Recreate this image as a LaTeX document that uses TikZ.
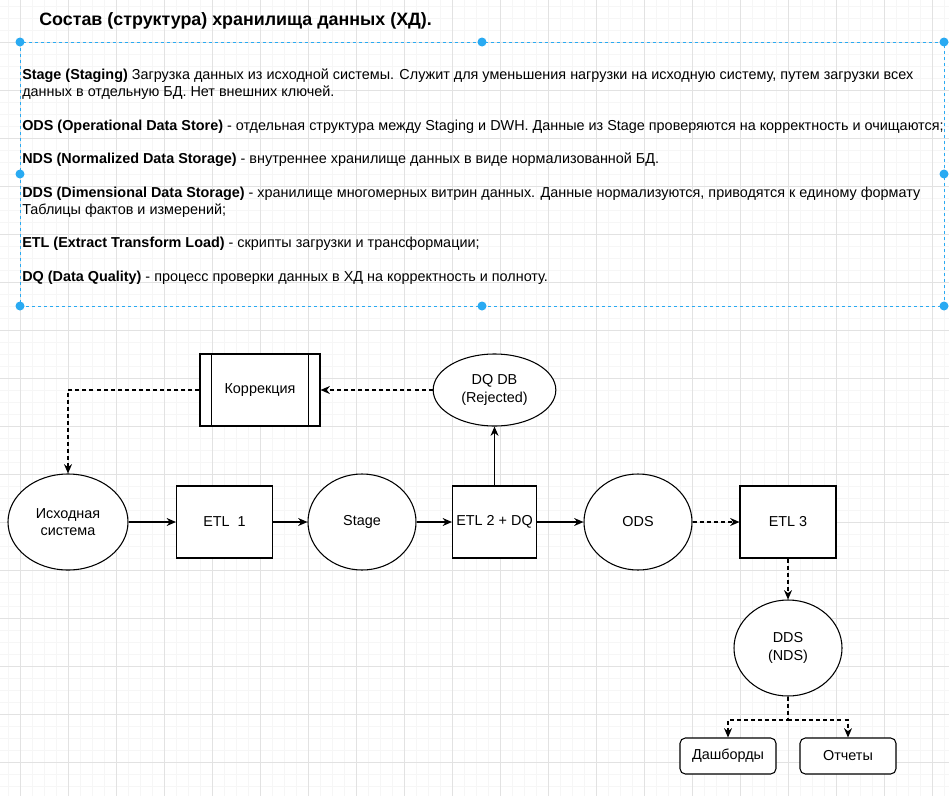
\documentclass[tikz,border=0pt]{standalone}
\usepackage{fontspec}
\setmainfont{Liberation Sans}
\usetikzlibrary{shapes.geometric,arrows.meta}
\definecolor{selblue}{RGB}{41,170,242}
\definecolor{gridmajor}{RGB}{226,226,226}
\definecolor{gridminor}{RGB}{246,246,246}
\newcommand{\bodyfont}{\fontsize{10.8}{13}\selectfont}
\begin{document}
\begin{tikzpicture}[x=0.75pt,y=-0.75pt,
	shape base/.style={draw,line width=0.8pt,fill=white,inner sep=0pt,align=center,
		font=\fontsize{10.8}{13}\selectfont},
	etlbox/.style={shape base,rectangle,minimum width=72pt,minimum height=54pt},
	store/.style={shape base,ellipse,minimum width=81pt,minimum height=72pt},
	outbox/.style={shape base,rectangle,rounded corners=4pt,minimum width=72pt,minimum height=27pt},
	flow/.style={line width=0.8pt,-{Stealth[length=7pt,width=6pt]}},
	dflow/.style={flow,dash pattern=on 3pt off 2.3pt},
	defline/.style={anchor=base west,inner sep=0pt,font=\bodyfont},
	handle/.style={fill=selblue,draw=none}]
	\useasboundingbox (0,0) rectangle (949,796);
	\fill[white] (0,0) rectangle (949,796);

	% siatka
	\foreach \x in {8,20,...,944} {
	    \draw[gridminor,line width=0.75pt] (\x,0) -- (\x,796);
	}
	\foreach \y in {6,18,...,794} {
	    \draw[gridminor,line width=0.75pt] (0,\y) -- (949,\y);
	}
	\foreach \x in {20,68,...,944} {
	    \draw[gridmajor,line width=0.75pt] (\x,0) -- (\x,796);
	}
	\foreach \y in {42,90,...,794} {
	    \draw[gridmajor,line width=0.75pt] (0,\y) -- (949,\y);
	}

	\node[anchor=base west,inner sep=0pt,font=\fontsize{13.4}{16}\selectfont\bfseries] (title) at (39,25)
	    {Состав (структура) хранилища данных (ХД).};

	% ramka zaznaczenia
	\draw[selblue,line width=0.75pt,dash pattern=on 2.25pt off 2.25pt] (20,42) rectangle (944,306);
	\foreach \x/\y in {20/42,482/42,944/42,944/174,944/306,482/306,20/306,20/174} {
	    \fill[handle] (\x,\y) circle(4.5);
	}

	\node[defline] (stg1) at (22,79) {\textbf{Stage (Staging)} Загрузка данных из исходной системы. Служит для уменьшения нагрузки на исходную систему, путем загрузки всех};
	\node[defline] (stg2) at (22,96) {данных в отдельную БД. Нет внешних ключей.};
	\node[defline] (ods1) at (22,130) {\textbf{ODS (Operational Data Store)} - отдельная структура между Staging и DWH. Данные из Stage проверяются на корректность и очищаются;};
	\node[defline] (nds1) at (22,163) {\textbf{NDS (Normalized Data Storage)} - внутреннее хранилище данных в виде нормализованной БД.};
	\node[defline] (dds1) at (22,197) {\textbf{DDS (Dimensional Data Storage)} - хранилище многомерных витрин данных. Данные нормализуются, приводятся к единому формату};
	\node[defline] (dds2) at (22,214) {Таблицы фактов и измерений;};
	\node[defline] (etl1) at (22,247) {\textbf{ETL (Extract Transform Load)} - скрипты загрузки и трансформации;};
	\node[defline] (dq1) at (22,281) {\textbf{DQ (Data Quality)} - процесс проверки данных в ХД на корректность и полноту.};

	% schemat
	\node[store,minimum width=90pt] (src) at (68,522) {Исходная\\система};
	\node[etlbox] (etlA) at (224.5,522) {ETL\ \ 1};
	\node[store] (stage) at (362,522) {Stage};
	\node[etlbox,minimum width=63pt] (etlB) at (494.5,522) {ETL 2 + DQ};
	\node[store] (ods) at (638,522) {ODS};
	\node[etlbox] (etlC) at (788,522) {ETL 3};
	\node[store,minimum width=92pt,minimum height=54pt] (dqdb) at (494.5,390) {DQ DB\\(Rejected)};
	\node[etlbox,minimum width=90pt] (corr) at (260,390) {Коррекция};
	\draw[line width=0.8pt] ([xshift=9pt]corr.north west) -- ([xshift=9pt]corr.south west);
	\draw[line width=0.8pt] ([xshift=-9pt]corr.north east) -- ([xshift=-9pt]corr.south east);
	\node[store] (dds) at (788,648) {DDS\\(NDS)};
	\node[outbox] (dash) at (728,756) {Дашборды};
	\node[outbox] (rep) at (848,756) {Отчеты};

	\draw[flow] (src) -- (etlA);
	\draw[flow] (etlA) -- (stage);
	\draw[flow] (stage) -- (etlB);
	\draw[flow] (etlB) -- (ods);
	\draw[flow] (etlB) -- (dqdb);
	\draw[dflow] (dqdb) -- (corr);
	\draw[dflow] (corr.west) -| (src.north);
	\draw[dflow] (ods) -- (etlC);
	\draw[dflow] (etlC) -- (dds);
	\coordinate (split) at (788,720);
	\draw[dflow] (dds.south) -- (split) -| (dash.north);
	\draw[dflow] (split) -| (rep.north);
\end{tikzpicture}
\end{document}
